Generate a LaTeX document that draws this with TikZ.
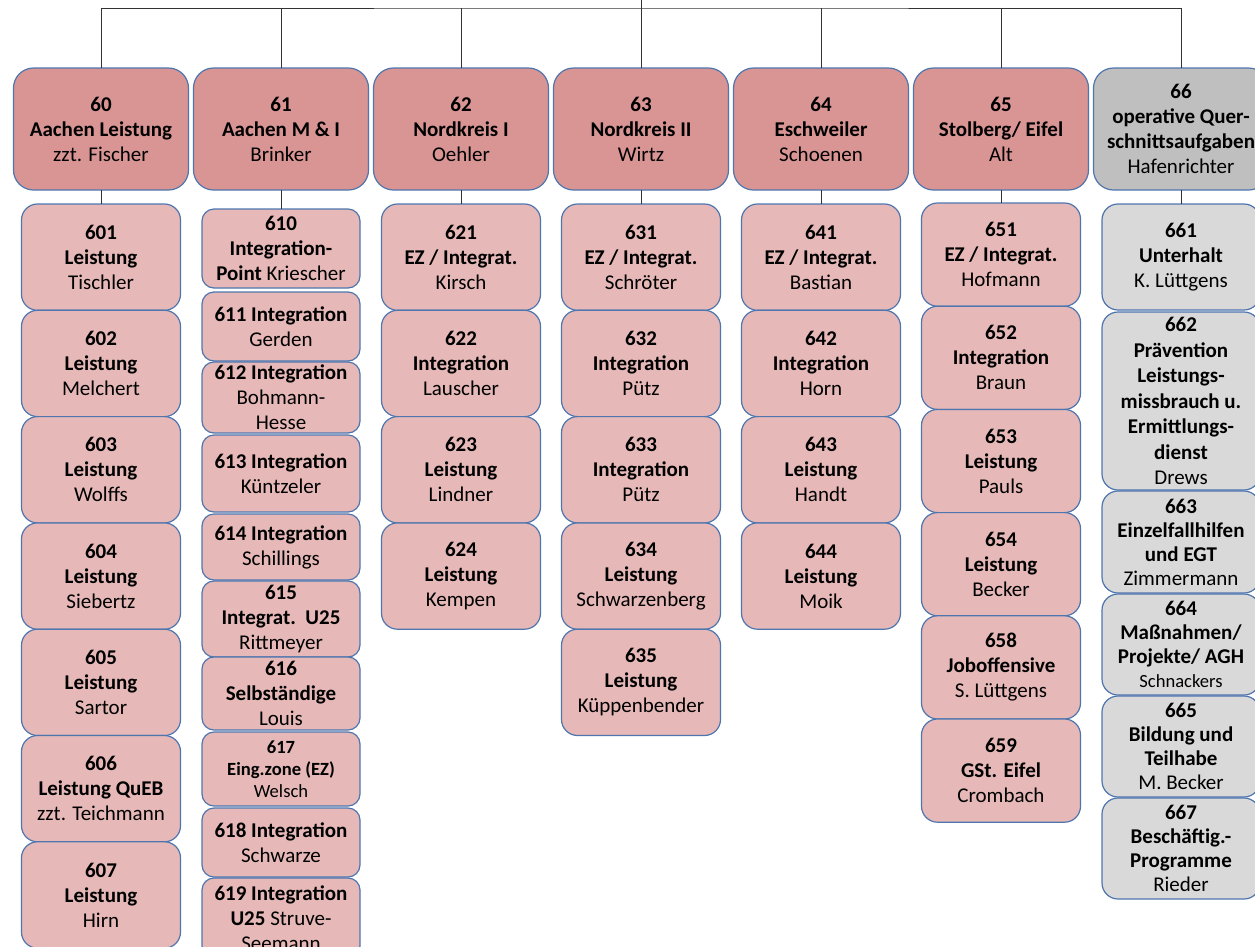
\documentclass[tikz,border=0pt]{standalone}
\usepackage{fontspec}
\setmainfont{Carlito}
\usetikzlibrary{positioning}

\definecolor{leadred}{HTML}{D99594}
\definecolor{teamred}{HTML}{E6B9B8}
\definecolor{leadgray}{HTML}{BFBFBF}
\definecolor{teamgray}{HTML}{D9D9D9}
\definecolor{frameblue}{HTML}{4F75AE}

\begin{document}
\begin{tikzpicture}[x=1pt,y=-1pt,node distance=0pt,
    box/.style={draw=frameblue,line width=1.2pt,align=center,inner sep=1pt,outer sep=0pt,
                font=\fontsize{21}{25}\selectfont},
    lead node/.style={box,fill=leadred,rounded corners=20pt,minimum width=175pt,minimum height=122pt},
    team node/.style={box,fill=teamred,rounded corners=16pt,minimum width=159pt,minimum height=106.3pt},
    slim team/.style={team node,minimum width=158pt,rounded corners=12pt},
    gray team/.style={team node,fill=teamgray,minimum width=158pt,font=\fontsize{21}{24}\selectfont},
    small text/.style={font=\fontsize{18.6}{22}\selectfont},
    link/.style={draw=black!80,line width=1pt}]

  \useasboundingbox (0,0) rectangle (1255,946);

  % Bereichsleitungen
  \node[lead node] (b60) at (101,129) {\textbf{60}\\\textbf{Aachen Leistung}\\zzt. Fischer};
  \node[lead node] (b61) at (281,129) {\textbf{61}\\\textbf{Aachen M \& I}\\Brinker};
  \node[lead node] (b62) at (461,129) {\textbf{62}\\\textbf{Nordkreis I}\\Oehler};
  \node[lead node] (b63) at (641,129) {\textbf{63}\\\textbf{Nordkreis II}\\Wirtz};
  \node[lead node] (b64) at (821,129) {\textbf{64}\\\textbf{Eschweiler}\\Schoenen};
  \node[lead node] (b65) at (1001,129) {\textbf{65}\\\textbf{Stolberg/ Eifel}\\Alt};
  \node[lead node,fill=leadgray] (b66) at (1181,129) {\textbf{66}\\\textbf{operative Quer-}\\\textbf{schnittsaufgaben}\\Hafenrichter};

  % Teams 60
  \node[team node] (u601) [below=14pt of b60] {\textbf{601}\\\textbf{Leistung}\\Tischler};
  \node[team node] (u602) [below=of u601] {\textbf{602}\\\textbf{Leistung}\\Melchert};
  \node[team node] (u603) [below=of u602] {\textbf{603}\\\textbf{Leistung}\\Wolffs};
  \node[team node] (u604) [below=of u603] {\textbf{604}\\\textbf{Leistung}\\Siebertz};
  \node[team node] (u605) [below=of u604] {\textbf{605}\\\textbf{Leistung}\\Sartor};
  \node[team node] (u606) [below=of u605] {\textbf{606}\\\textbf{Leistung QuEB}\\zzt. Teichmann};
  \node[team node] (u607) [below=of u606] {\textbf{607}\\\textbf{Leistung}\\Hirn};

  % Teams 61
  \node[slim team,minimum height=79pt] (u610) [below=19pt of b61] {\textbf{610}\\\textbf{Integration-}\\\textbf{Point} Kriescher};
  \node[slim team,minimum height=69pt] (u611) [below=4pt of u610] {\textbf{611 Integration}\\Gerden};
  \node[slim team,minimum height=71pt] (u612) [below=1pt of u611] {\textbf{612 Integration}\\Bohmann-\\Hesse};
  \node[slim team,minimum height=77pt] (u613) [below=2pt of u612] {\textbf{613 Integration}\\Küntzeler};
  \node[slim team,minimum height=66pt] (u614) [below=2pt of u613] {\textbf{614 Integration}\\Schillings};
  \node[slim team,minimum height=76pt] (u615) [below=1pt of u614] {\textbf{615}\\\textbf{Integrat.\ \ U25}\\Rittmeyer};
  \node[slim team,minimum height=73pt] (u616) [below=of u615] {\textbf{616}\\\textbf{Selbständige}\\Louis};
  \node[slim team,minimum height=74pt,small text] (u617) [below=2pt of u616] {\textbf{617}\\\textbf{Eing.zone (EZ)}\\Welsch};
  \node[slim team,minimum height=69pt] (u618) [below=2pt of u617] {\textbf{618 Integration}\\Schwarze};
  \node[slim team,minimum height=80pt] (u619) [below=1pt of u618] {\textbf{619 Integration}\\\textbf{U25} Struve-\\Seemann};

  % Teams 62
  \node[team node] (u621) [below=14pt of b62] {\textbf{621}\\\textbf{EZ / Integrat.}\\Kirsch};
  \node[team node] (u622) [below=of u621] {\textbf{622}\\\textbf{Integration}\\Lauscher};
  \node[team node] (u623) [below=of u622] {\textbf{623}\\\textbf{Leistung}\\Lindner};
  \node[team node] (u624) [below=of u623] {\textbf{624}\\\textbf{Leistung}\\Kempen};

  % Teams 63
  \node[team node] (u631) [below=14pt of b63] {\textbf{631}\\\textbf{EZ / Integrat.}\\Schröter};
  \node[team node] (u632) [below=of u631] {\textbf{632}\\\textbf{Integration}\\Pütz};
  \node[team node] (u633) [below=of u632] {\textbf{633}\\\textbf{Integration}\\Pütz};
  \node[team node] (u634) [below=of u633] {\textbf{634}\\\textbf{Leistung}\\Schwarzenberg};
  \node[team node] (u635) [below=of u634] {\textbf{635}\\\textbf{Leistung}\\Küppenbender};

  % Teams 64
  \node[team node] (u641) [below=14pt of b64] {\textbf{641}\\\textbf{EZ / Integrat.}\\Bastian};
  \node[team node] (u642) [below=of u641] {\textbf{642}\\\textbf{Integration}\\Horn};
  \node[team node] (u643) [below=of u642] {\textbf{643}\\\textbf{Leistung}\\Handt};
  \node[team node] (u644) [below=of u643] {\textbf{644}\\\textbf{Leistung}\\Moik};

  % Teams 65
  \node[team node,minimum height=103.2pt] (u651) [below=13pt of b65] {\textbf{651}\\\textbf{EZ / Integrat.}\\Hofmann};
  \node[team node,minimum height=103.2pt] (u652) [below=of u651] {\textbf{652}\\\textbf{Integration}\\Braun};
  \node[team node,minimum height=103.2pt] (u653) [below=of u652] {\textbf{653}\\\textbf{Leistung}\\Pauls};
  \node[team node,minimum height=103.2pt] (u654) [below=of u653] {\textbf{654}\\\textbf{Leistung}\\Becker};
  \node[team node,minimum height=103.2pt] (u658) [below=of u654] {\textbf{658}\\\textbf{Joboffensive}\\S. Lüttgens};
  \node[team node,minimum height=103.2pt] (u659) [below=of u658] {\textbf{659}\\\textbf{GSt. Eifel}\\Crombach};

  % Teams 66
  \node[gray team,minimum height=106pt,font=\fontsize{21}{25}\selectfont] (u661) [below=14pt of b66] {\textbf{661}\\\textbf{Unterhalt}\\K. Lüttgens};
  \node[gray team,minimum height=178pt,font=\fontsize{21}{25.5}\selectfont] (u662) [below=2pt of u661] {\textbf{662}\\\textbf{Prävention}\\\textbf{Leistungs-}\\\textbf{missbrauch u.}\\\textbf{Ermittlungs-}\\\textbf{dienst}\\Drews};
  \node[gray team,minimum height=102pt] (u663) [below=1pt of u662] {\textbf{663}\\\textbf{Einzelfallhilfen}\\\textbf{und EGT}\\Zimmermann};
  \node[gray team,minimum height=101pt] (u664) [below=1pt of u663] {\textbf{664}\\\textbf{Maßnahmen/}\\\textbf{Projekte/ AGH}\\{\fontsize{18.6}{22}\selectfont Schnackers}};
  \node[gray team,minimum height=101pt] (u665) [below=1pt of u664] {\textbf{665}\\\textbf{Bildung und}\\\textbf{Teilhabe}\\M. Becker};
  \node[gray team,minimum height=101pt] (u667) [below=1pt of u665] {\textbf{667}\\\textbf{Beschäftig.-}\\\textbf{Programme}\\Rieder};

  % Verbindungen
  \coordinate (root) at (641,0);
  \coordinate (bus) at (641,8);
  \draw[link] (root) -- (bus);
  \draw[link] (b60.north) |- (bus) -| (b66.north);
  \path[link]
    (b61.north) edge (b61.north |- bus)
    (b62.north) edge (b62.north |- bus)
    (b63.north) edge (bus)
    (b64.north) edge (b64.north |- bus)
    (b65.north) edge (b65.north |- bus)

    (b60) edge (u601)
    (b61) edge (u610)
    (b62) edge (u621)
    (b63) edge (u631)
    (b64) edge (u641)
    (b65) edge (u651)
    (b66) edge (u661)
;
\end{tikzpicture}
\end{document}
